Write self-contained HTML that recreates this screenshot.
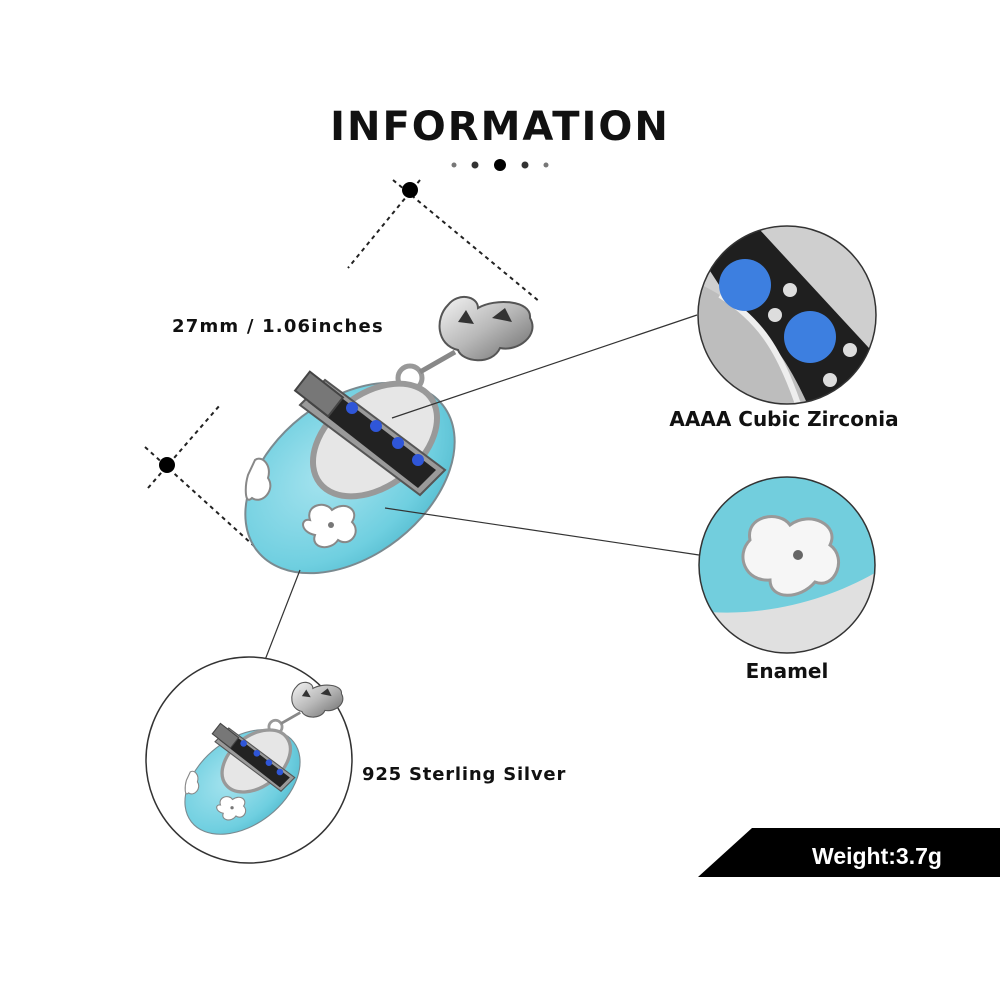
<!DOCTYPE html>
<html><head><meta charset="utf-8"><style>
html,body{margin:0;padding:0;background:#fff;}
svg{display:block;}
text{font-family:"DejaVu Sans","Liberation Sans",sans-serif;font-weight:bold;}
</style></head><body>
<svg width="1000" height="1000" viewBox="0 0 1000 1000" xmlns="http://www.w3.org/2000/svg">
<defs>
<radialGradient id="blue" cx="0.45" cy="0.4" r="0.7"><stop offset="0" stop-color="#a8e4ef"/><stop offset="0.7" stop-color="#6fcfe0"/><stop offset="1" stop-color="#4fb8cc"/></radialGradient>
<linearGradient id="silver" x1="0" y1="0" x2="1" y2="1"><stop offset="0" stop-color="#f4f4f4"/><stop offset="0.5" stop-color="#b8b8b8"/><stop offset="1" stop-color="#6a6a6a"/></linearGradient>
<g id="shoe">
  <path d="M448 305 C458 292 478 296 478 308 C495 298 532 300 530 318 C540 335 518 352 500 348 C492 366 462 362 458 350 C436 345 435 318 448 305Z" fill="url(#silver)" stroke="#555" stroke-width="2"/>
  <path d="M458 322 L466 310 L474 324Z M492 318 L505 308 L512 322Z" fill="#333"/>
  <circle cx="410" cy="378" r="12" fill="none" stroke="#999" stroke-width="5"/>
  <line x1="420" y1="372" x2="455" y2="352" stroke="#888" stroke-width="5"/>
  <ellipse cx="350" cy="478" rx="118" ry="78" transform="rotate(-38 350 478)" fill="url(#blue)" stroke="#7a8a90" stroke-width="2"/>
  <ellipse cx="375" cy="440" rx="70" ry="46" transform="rotate(-38 375 440)" fill="#e6e6e6" stroke="#999" stroke-width="6"/>
  <path d="M300 405 L325 380 L445 470 L420 495Z" fill="#9a9a9a" stroke="#555" stroke-width="2"/>
  <path d="M308 402 L326 386 L436 470 L418 488Z" fill="#222"/>
  <circle cx="352" cy="408" r="6" fill="#2f56d8"/><circle cx="376" cy="426" r="6" fill="#2f56d8"/>
  <circle cx="398" cy="443" r="6" fill="#2f56d8"/><circle cx="418" cy="460" r="6" fill="#2f56d8"/>
  <rect x="298" y="382" width="42" height="24" transform="rotate(38 319 394)" fill="#777" stroke="#444" stroke-width="2"/>
  <path d="M310 520 C305 505 325 500 332 510 C345 500 360 510 352 522 C362 532 350 548 338 540 C330 552 310 548 315 535 C300 532 300 518 310 520Z" fill="#fff" stroke="#888" stroke-width="2"/>
  <circle cx="331" cy="525" r="3" fill="#777"/>
  <path d="M255 460 C262 455 272 465 268 478 C276 490 262 505 252 498 C244 506 245 485 248 475Z" fill="#fff" stroke="#888" stroke-width="2"/>
</g>
<clipPath id="c1"><circle cx="787" cy="315" r="89"/></clipPath>
<clipPath id="c2"><circle cx="787" cy="565" r="88"/></clipPath>
</defs>

<text x="500" y="140" text-anchor="middle" font-size="40" fill="#111" letter-spacing="2">INFORMATION</text>
<circle cx="454" cy="165" r="2.5" fill="#777"/><circle cx="475" cy="165" r="3.5" fill="#333"/>
<circle cx="500" cy="165" r="6" fill="#000"/><circle cx="525" cy="165" r="3.5" fill="#333"/><circle cx="546" cy="165" r="2.5" fill="#777"/>

<g stroke="#222" stroke-width="2" stroke-dasharray="4 4" fill="none">
  <line x1="393" y1="180" x2="540" y2="302"/>
  <line x1="420" y1="180" x2="348" y2="268"/>
  <line x1="145" y1="447" x2="275" y2="565"/>
  <line x1="148" y1="488" x2="220" y2="405"/>
</g>
<circle cx="410" cy="190" r="8" fill="#000"/>
<circle cx="167" cy="465" r="8" fill="#000"/>
<text x="172" y="332" font-size="18" fill="#111" letter-spacing="1.2">27mm / 1.06inches</text>

<use href="#shoe"/>

<g stroke="#333" stroke-width="1.2">
  <line x1="392" y1="418" x2="697" y2="315"/>
  <line x1="385" y1="508" x2="699" y2="555"/>
  <line x1="300" y1="570" x2="265" y2="660"/>
</g>

<g clip-path="url(#c1)">
  <rect x="690" y="220" width="200" height="190" fill="#cfcfcf"/>
  <path d="M690 240 L760 230 L880 360 L880 410 L800 410Z" fill="#1f1f1f"/>
  <path d="M690 280 C740 300 780 340 810 410 L690 410Z" fill="#bdbdbd"/>
  <path d="M720 295 C760 320 780 350 800 410" stroke="#eee" stroke-width="6" fill="none"/>
  <circle cx="745" cy="285" r="26" fill="#3d7fe0"/><circle cx="810" cy="337" r="26" fill="#3d7fe0"/>
  <circle cx="790" cy="290" r="7" fill="#ddd"/><circle cx="775" cy="315" r="7" fill="#ddd"/>
  <circle cx="850" cy="350" r="7" fill="#ddd"/><circle cx="830" cy="380" r="7" fill="#ddd"/>
</g>
<circle cx="787" cy="315" r="89" fill="none" stroke="#333" stroke-width="1.5"/>
<text x="784" y="426" text-anchor="middle" font-size="20" fill="#111">AAAA Cubic Zirconia</text>

<g clip-path="url(#c2)">
  <rect x="690" y="470" width="200" height="190" fill="#72cedd"/>
  <path d="M690 610 C760 620 830 600 880 570 L880 660 L690 660Z" fill="#e0e0e0"/>
  <path d="M750 540 C745 515 780 510 790 525 C810 510 840 525 830 545 C848 558 835 590 815 582 C800 600 770 600 770 580 C745 582 735 555 750 540Z" fill="#f6f6f6" stroke="#999" stroke-width="3"/>
  <circle cx="798" cy="555" r="5" fill="#666"/>
</g>
<circle cx="787" cy="565" r="88" fill="none" stroke="#333" stroke-width="1.5"/>
<text x="787" y="678" text-anchor="middle" font-size="20" fill="#111">Enamel</text>

<circle cx="249" cy="760" r="103" fill="#fff" stroke="#333" stroke-width="1.5"/>
<use href="#shoe" transform="translate(50 519) scale(0.55)"/>
<text x="362" y="780" font-size="18" fill="#111" letter-spacing="0.8">925 Sterling Silver</text>

<polygon points="698,877 752,828 1000,828 1000,877" fill="#000"/>
<text x="877" y="864" text-anchor="middle" font-size="23" fill="#fff" style="font-family:'Liberation Sans',sans-serif">Weight:3.7g</text>
</svg>
</body></html>
